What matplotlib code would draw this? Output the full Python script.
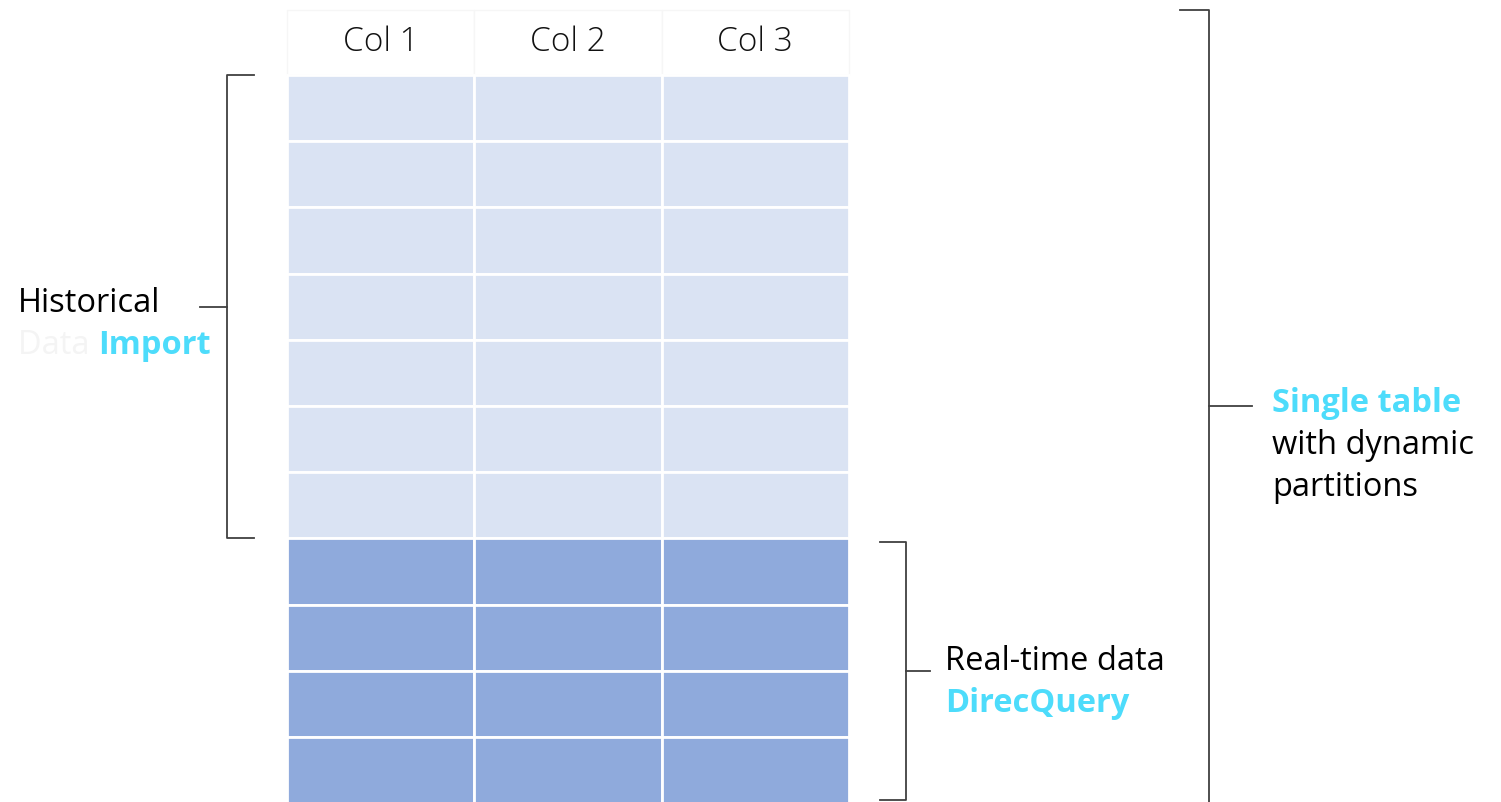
import matplotlib.pyplot as plt

# Table content
columns = ["Col 1", "Col 2", "Col 3"]
historical_rows = 7
realtime_rows = 4

# Labels
left_label = ["Historical", "Data", "Import"]
mid_label = ["Real-time data", "DirecQuery"]
right_label = ["Single table", "with dynamic", "partitions"]

light_blue = "#dae3f3"
dark_blue = "#8faadc"
cyan = "#4ddcfb"
line_col = "#404040"

plt.rcParams['font.family'] = ['Open Sans', 'DejaVu Sans']

fig = plt.figure(figsize=(15.01, 8.02), dpi=100)
ax = fig.add_axes([0, 0, 1, 1])
ax.set_xlim(0, 1501)
ax.set_ylim(802, 0)
ax.axis('off')

fs = 23.5

# table geometry (pixels)
x0, col_w = 287, 187.3
head_top, head_h = 10, 65
row_h = 66.2
top = head_top + head_h

# header cells
for i, name in enumerate(columns):
    xc = x0 + i * col_w
    ax.bar(xc, head_h, width=col_w, bottom=head_top, align='edge',
           color='white', edgecolor='#f6f6f6', linewidth=1)
    ax.text(xc + col_w / 2, head_top + head_h / 2, name, ha='center', va='center',
            fontsize=24, color='#111111', fontweight='light')

# rows
n_rows = historical_rows + realtime_rows
for r in range(n_rows):
    color = light_blue if r < historical_rows else dark_blue
    for i in range(len(columns)):
        ax.bar(x0 + i * col_w, row_h, width=col_w, bottom=top + r * row_h,
               align='edge', color=color, edgecolor='white', linewidth=2)

split = top + historical_rows * row_h

# left bracket (historical)
ax.plot([254, 227, 227, 254], [top, top, split, split], color=line_col, lw=1.3)
mid_l = (top + split) / 2
ax.plot([200, 227], [mid_l, mid_l], color=line_col, lw=1.3)
ax.text(18, 303, left_label[0], ha='left', va='center', fontsize=fs, color='black')
t = ax.text(18, 346, left_label[1] + " ", ha='left', va='center', fontsize=fs, color='#f4f4f4')
ax.annotate(left_label[2], xycoords=t, xy=(1, 0.5), va='center', ha='left',
            fontsize=fs, color=cyan, fontweight='bold')

# middle bracket (real-time)
ax.plot([880, 906, 906, 880], [split + 4, split + 4, 800, 800], color=line_col, lw=1.3)
mid_m = (split + 4 + 800) / 2
ax.plot([906, 930], [mid_m, mid_m], color=line_col, lw=1.3)
ax.text(945, 662, mid_label[0], ha='left', va='center', fontsize=fs, color='black')
ax.text(945, 704, mid_label[1], ha='left', va='center', fontsize=fs, color=cyan,
        fontweight='bold')

# right bracket (whole table)
ax.plot([1180, 1209, 1209], [10, 10, 802], color=line_col, lw=1.3)
ax.plot([1209, 1252], [406, 406], color=line_col, lw=1.3)
ax.text(1272, 404, right_label[0], ha='left', va='center', fontsize=fs, color=cyan,
        fontweight='bold')
ax.text(1272, 446, right_label[1], ha='left', va='center', fontsize=fs, color='black')
ax.text(1272, 488, right_label[2], ha='left', va='center', fontsize=fs, color='black')

fig.savefig('out.png', dpi=100, facecolor='white')
